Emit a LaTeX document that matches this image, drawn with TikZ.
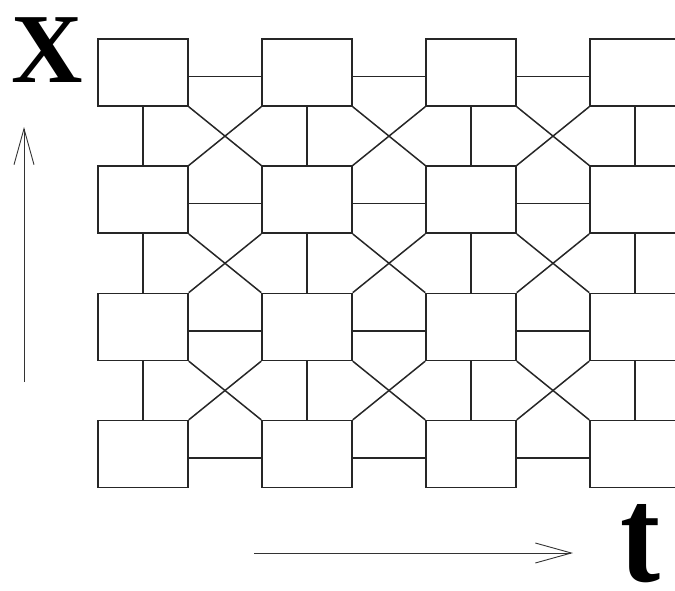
\documentclass[tikz,border=0pt]{standalone}
\usepackage{fontspec}
\setmainfont{Liberation Serif}
\usetikzlibrary{arrows.meta}
\begin{document}
\begin{tikzpicture}[x=1pt,y=-1pt,
  cell/.style={draw=black!85, line width=1.5pt, rectangle, minimum width=90pt, minimum height=67pt, inner sep=0pt},
  link/.style={draw=black!85, line width=1.5pt},
  axis/.style={draw=black!80, line width=0.9pt, -{Straight Barb[length=36pt,width=20pt,line width=0.9pt]}},
  lab/.style={anchor=base, inner sep=0pt}]
\useasboundingbox (0,0) rectangle (675,590);
\clip (0,0) rectangle (675,590);
% cells
\foreach \i in {1,...,4}
  \foreach \j in {1,...,4}
    \node[cell] (r-\i-\j) at ({143+164*(\j-1)}, {72.5+127.2*(\i-1)}) {};
% horizontal links
\foreach \i in {1,...,4}
  \foreach \j/\k in {1/2,2/3,3/4}
    \draw[link] ([yshift=-4pt]r-\i-\j.east) -- ([yshift=-4pt]r-\i-\k.west);
% vertical links
\foreach \i/\k in {1/2,2/3,3/4}
  \foreach \j in {1,...,4}
    \draw[link] (r-\i-\j.south) -- (r-\k-\j.north);
% crossing diagonals
\foreach \i/\k in {1/2,2/3,3/4}
  \foreach \j/\l in {1/2,2/3,3/4} {
    \draw[link] (r-\i-\j.south east) -- (r-\k-\l.north west);
    \draw[link] (r-\i-\l.south west) -- (r-\k-\j.north east);
  }
% axes
\coordinate (xa0) at (24,382);
\coordinate (xa1) at (24,127);
\draw[axis] (xa0) -- (xa1);
\coordinate (ta0) at (254,553);
\coordinate (ta1) at (573,553);
\draw[axis] (ta0) -- (ta1);
% labels
\node[lab, font=\fontsize{99}{99}\selectfont\bfseries] (xl) at (47,82) {X};
\node[lab, font=\fontsize{120}{120}\selectfont\bfseries] (tl) at (640,581) {\scalebox{1}[1.14]{t}};
\end{tikzpicture}
\end{document}
